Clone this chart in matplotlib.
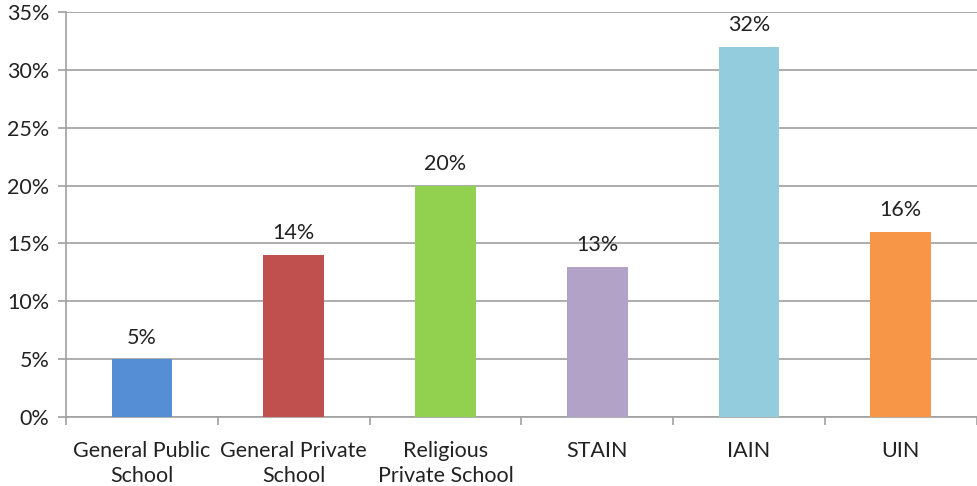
import matplotlib.pyplot as plt
from matplotlib.ticker import MultipleLocator, FuncFormatter, FixedLocator

plt.rcParams['font.family'] = ['Lato', 'DejaVu Sans']

categories = ["General Public\nSchool", "General Private\nSchool", "Religious\nPrivate School",
              "STAIN", "IAIN", "UIN"]
values = [5, 14, 20, 13, 32, 16]
colors = ["#558ED5", "#C0504D", "#92D050", "#B3A2C7", "#93CDDD", "#F79646"]

fig = plt.figure(figsize=(9.78, 4.86), dpi=100)
ax = fig.add_axes([0.0675, 0.142, 0.931, 0.833])

x = range(len(categories))
bars = ax.bar(x, values, width=0.4, color=colors, zorder=3)

# value labels above bars
for xi, v in zip(x, values):
    ax.text(xi, v + 1.0, f"{v}%", ha="center", va="bottom", fontsize=15.5, color="#222222")

ax.set_xlim(-0.5, len(categories) - 0.5)
ax.set_ylim(0, 35)
ax.yaxis.set_major_locator(MultipleLocator(5))
ax.yaxis.set_major_formatter(FuncFormatter(lambda v, p: f"{v:.0f}%"))
ax.set_xticks(list(x))
ax.set_xticklabels(categories, fontsize=15.5, color="#222222", linespacing=1.35)
ax.xaxis.set_minor_locator(FixedLocator([i - 0.5 for i in range(len(categories) + 1)]))
ax.tick_params(axis="x", which="major", length=0, pad=17)
ax.tick_params(axis="x", which="minor", length=6, width=1.2, color="#A0A0A0")
ax.tick_params(axis="y", length=6, width=1.2, color="#A0A0A0", labelsize=15.5,
               labelcolor="#222222", pad=6)

ax.grid(axis="y", color="#A0A0A0", linewidth=1.2, zorder=0)
for side in ["top", "right"]:
    ax.spines[side].set_visible(False)
for side in ["left", "bottom"]:
    ax.spines[side].set_color("#A0A0A0")
    ax.spines[side].set_linewidth(1.2)

plt.savefig("out.png", dpi=100)
